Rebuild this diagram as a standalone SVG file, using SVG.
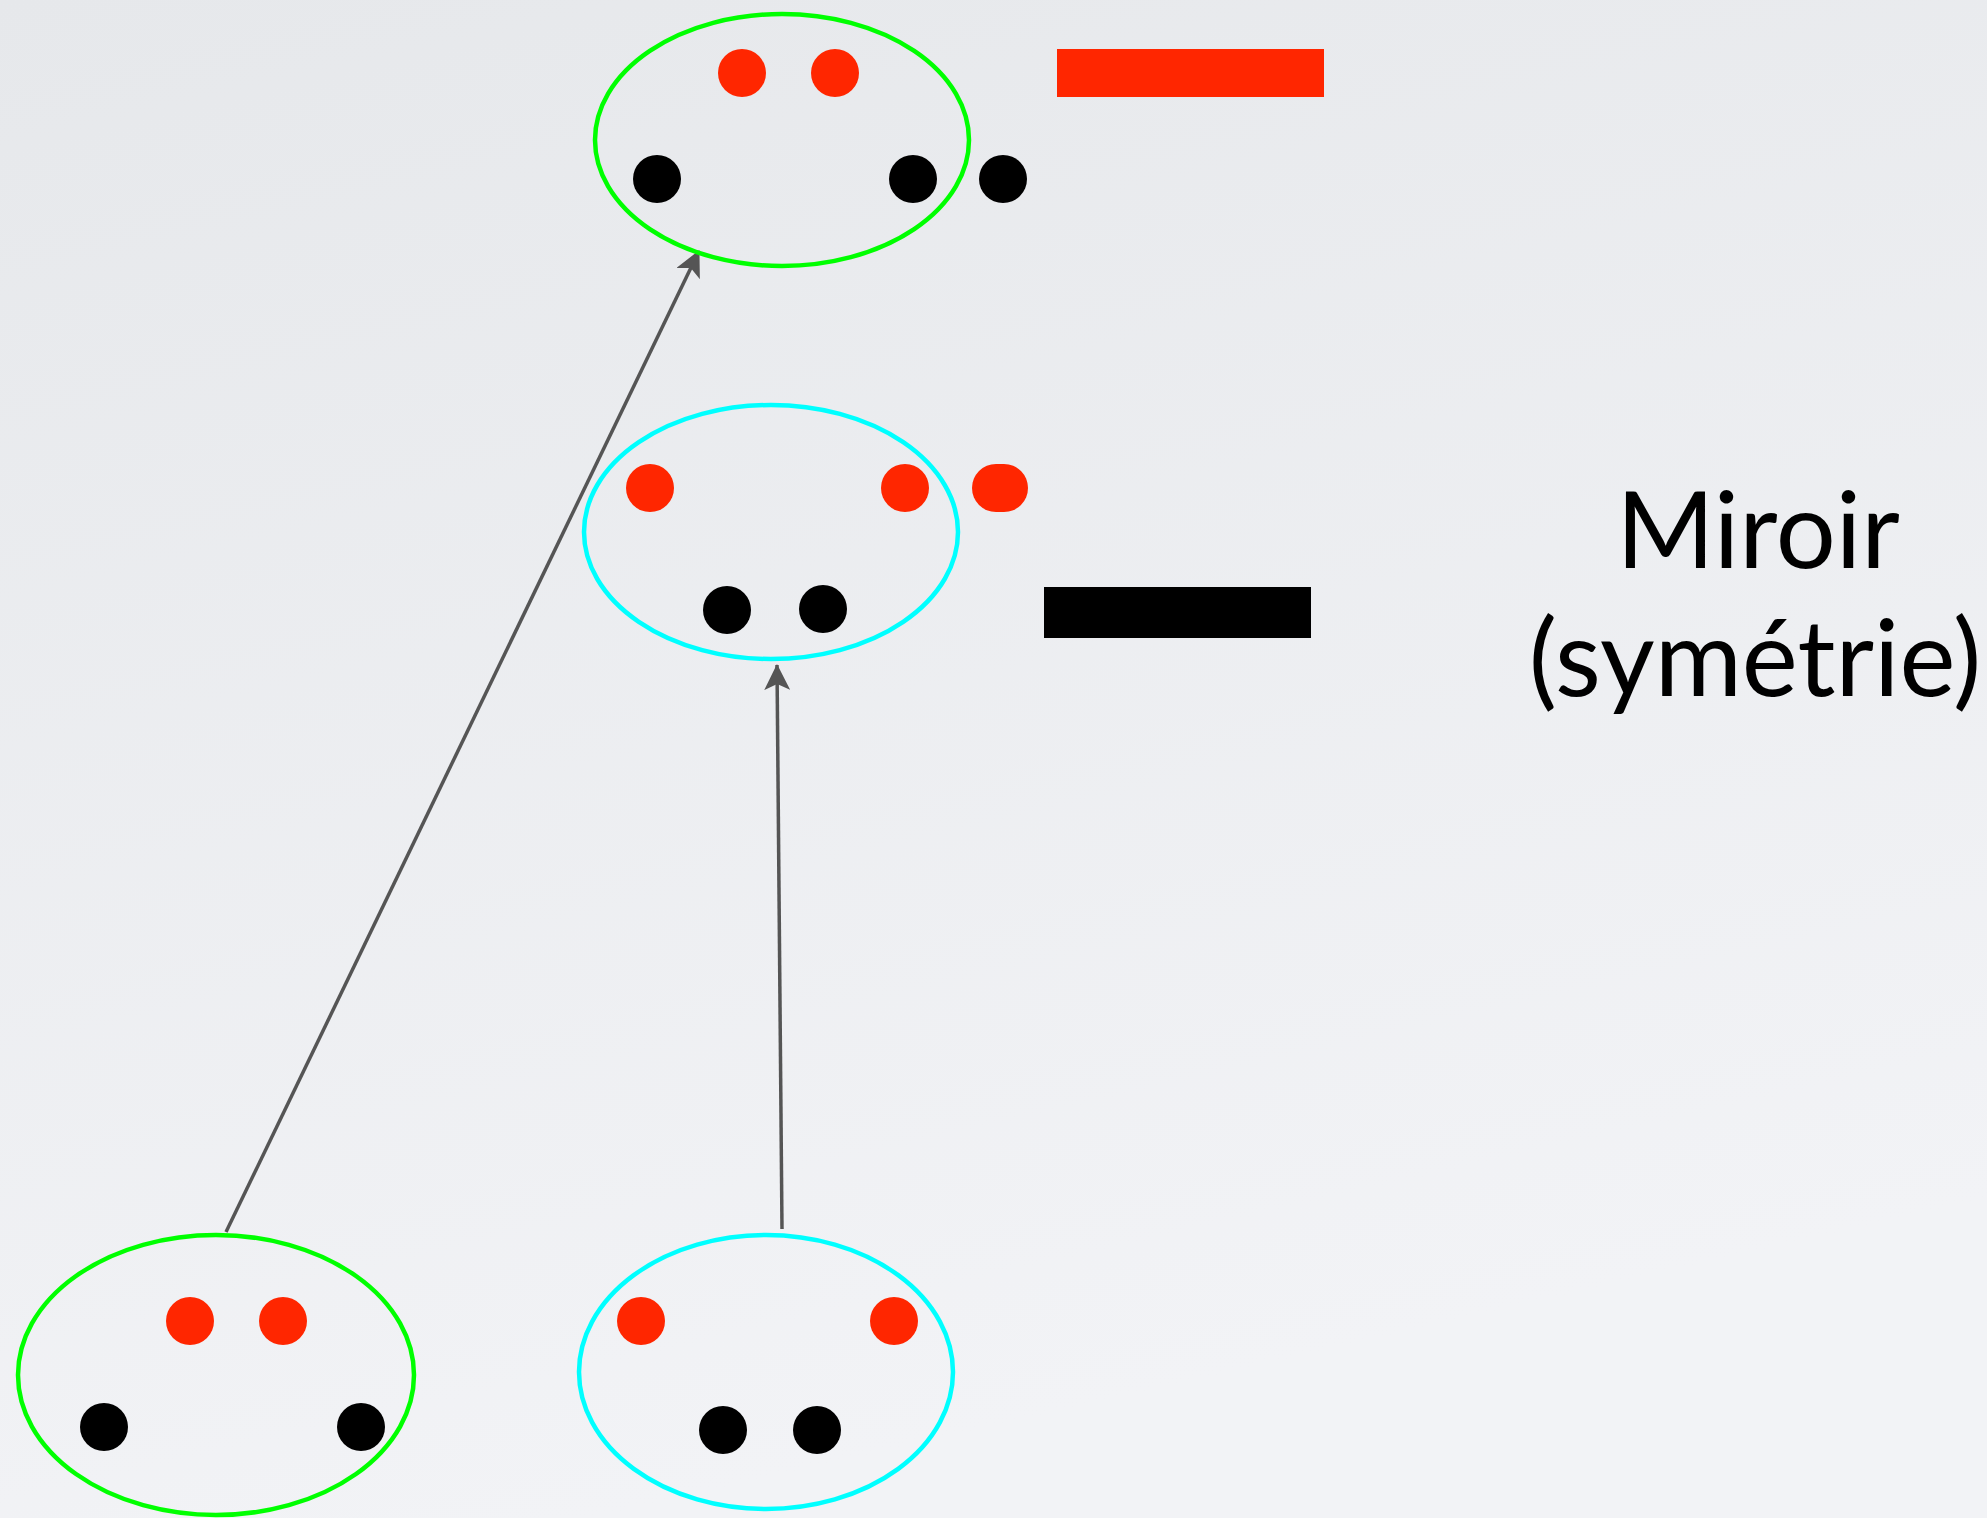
<svg xmlns="http://www.w3.org/2000/svg" width="1987" height="1518" viewBox="0 0 1987 1518">
  <defs>
    <linearGradient id="bg" x1="0" y1="0" x2="0.3" y2="1">
      <stop offset="0" stop-color="#e6e8eb"/>
      <stop offset="1" stop-color="#f2f3f6"/>
    </linearGradient>
    <marker id="arr" viewBox="0 0 26 26" refX="25" refY="13" markerWidth="26" markerHeight="26" markerUnits="userSpaceOnUse" orient="auto">
      <path d="M0,0 L26,13 L0,26 L6,13 z" fill="#555555"/>
    </marker>
  </defs>
  <style>
    .green { fill: none; stroke: #00ff00; stroke-width: 4.5; }
    .cyan { fill: none; stroke: #00ffff; stroke-width: 4.5; }
    .red { fill: #ff2600; }
    .blk { fill: #000000; }
    .conn { stroke: #555555; stroke-width: 3.5; fill: none; marker-end: url(#arr); }
    .lbl { font-family: "Lato", "Open Sans", "Liberation Sans", sans-serif; font-weight: 400; font-size: 106px; fill: #000000; text-anchor: middle; }
  </style>
  <rect x="0" y="0" width="1987" height="1518" fill="url(#bg)"/>

  <g id="connectors">
    <line class="conn" x1="226" y1="1232" x2="699" y2="251"/>
    <line class="conn" x1="782" y1="1229" x2="777" y2="665"/>
  </g>

  <g id="node-top">
    <ellipse class="green" cx="782" cy="140" rx="187" ry="126"/>
    <circle class="red" cx="742" cy="73" r="24"/>
    <circle class="red" cx="835" cy="73" r="24"/>
    <circle class="blk" cx="657" cy="179" r="24"/>
    <circle class="blk" cx="913" cy="179" r="24"/>
    <circle class="blk" cx="1003" cy="179" r="24"/>
  </g>

  <g id="bar-red">
    <rect class="red" x="1057" y="49" width="267" height="48"/>
  </g>

  <g id="node-middle">
    <ellipse class="cyan" cx="771" cy="532" rx="187" ry="127"/>
    <circle class="red" cx="650" cy="488" r="24"/>
    <circle class="red" cx="905" cy="488" r="24"/>
    <rect class="red" x="972" y="464" width="56" height="48" rx="24" ry="24"/>
    <circle class="blk" cx="727" cy="610" r="24"/>
    <circle class="blk" cx="823" cy="609" r="24"/>
  </g>

  <g id="bar-black">
    <rect class="blk" x="1044" y="587" width="267" height="51"/>
  </g>

  <g id="node-bottom-left">
    <ellipse class="green" cx="216" cy="1375" rx="198" ry="140"/>
    <circle class="red" cx="190" cy="1321" r="24"/>
    <circle class="red" cx="283" cy="1321" r="24"/>
    <circle class="blk" cx="104" cy="1427" r="24"/>
    <circle class="blk" cx="361" cy="1427" r="24"/>
  </g>

  <g id="node-bottom-right">
    <ellipse class="cyan" cx="766" cy="1372" rx="187" ry="137"/>
    <circle class="red" cx="641" cy="1321" r="24"/>
    <circle class="red" cx="894" cy="1321" r="24"/>
    <circle class="blk" cx="723" cy="1430" r="24"/>
    <circle class="blk" cx="817" cy="1430" r="24"/>
  </g>

  <g id="label">
    <text class="lbl" x="1758" y="568">Miroir</text>
    <text class="lbl" x="1755" y="696">(symétrie)</text>
  </g>
</svg>
